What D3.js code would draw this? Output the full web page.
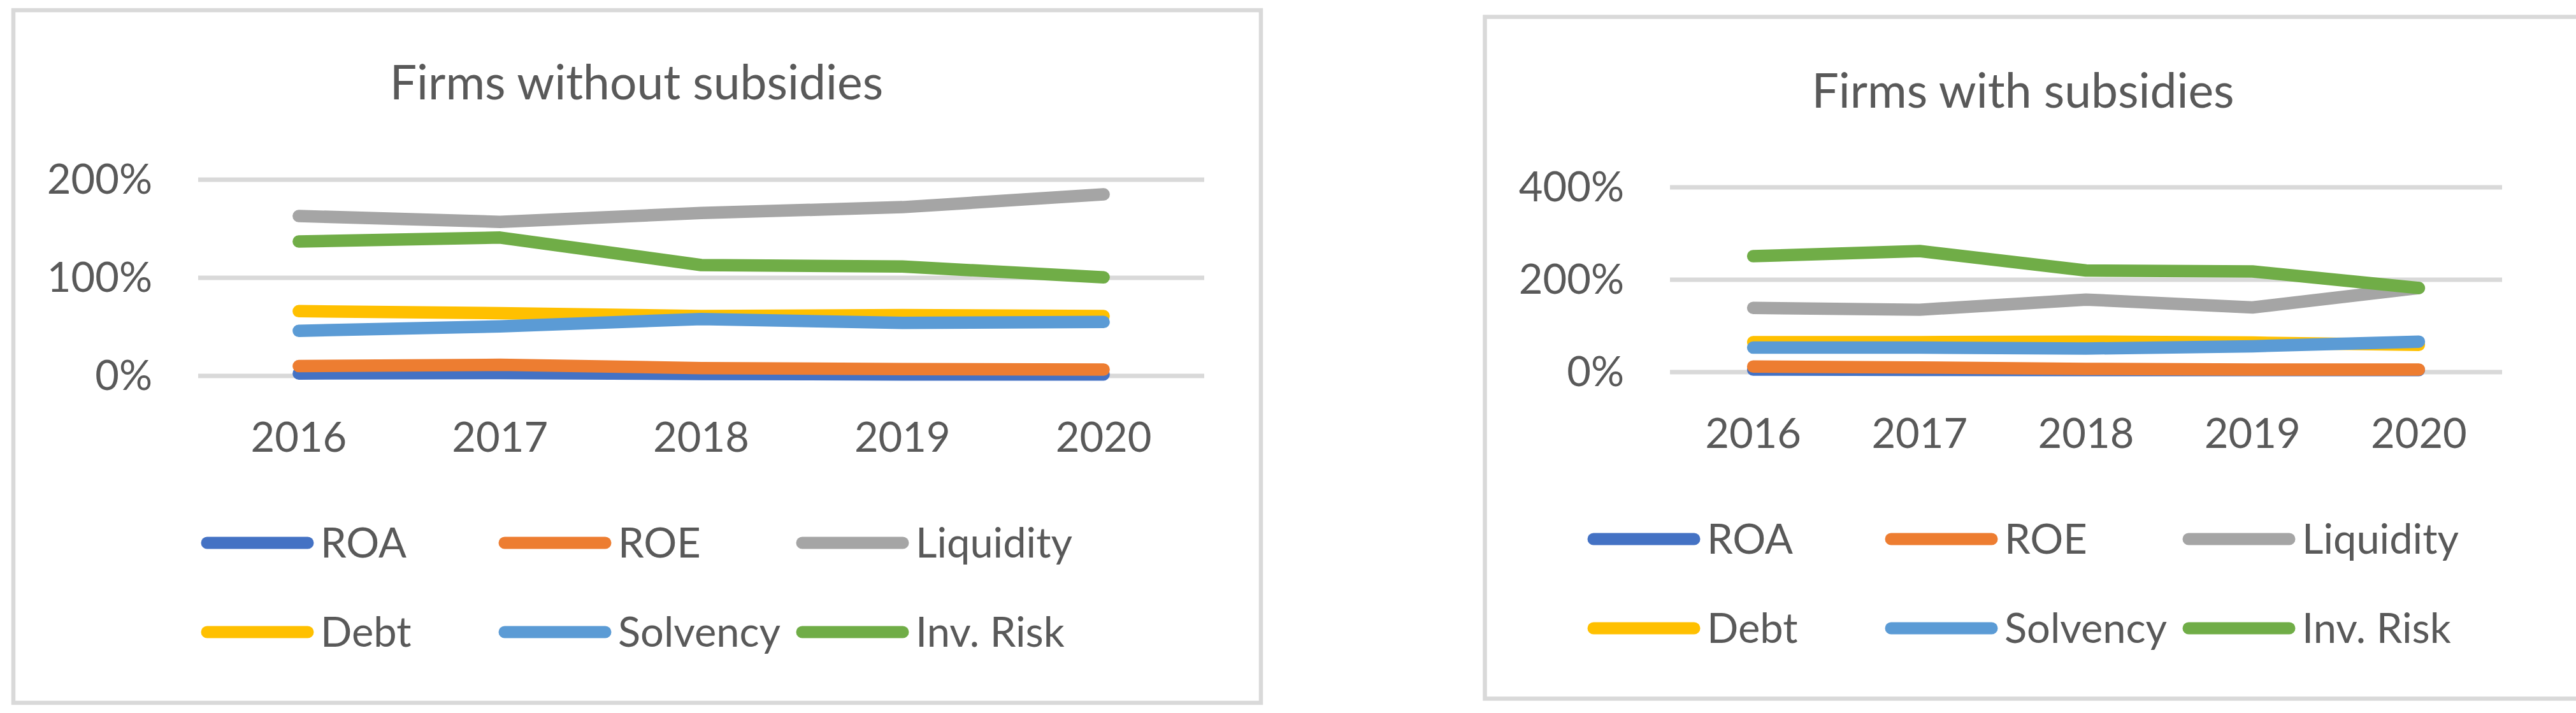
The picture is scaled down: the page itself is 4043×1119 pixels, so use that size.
<!DOCTYPE html>
<html>
<head>
<meta charset="utf-8">
<script src="https://cdn.jsdelivr.net/npm/d3@7"></script>
<style>
  html, body { margin: 0; padding: 0; background: #ffffff; }
  svg { display: block; }
  text { font-family: Lato, "Open Sans", sans-serif; fill: #595959; }
</style>
</head>
<body>
<svg id="chart" width="4043" height="1119"></svg>
<script>
// ---------- DATA ----------
const years = ["2016", "2017", "2018", "2019", "2020"];
const seriesNames = ["ROA", "ROE", "Liquidity", "Debt", "Solvency", "Inv. Risk"];

// Firms without subsidies (fractions, 1 = 100%)
const withoutROA       = [0.025, 0.030, 0.020, 0.015, 0.015];
const withoutROE       = [0.100, 0.113, 0.080, 0.070, 0.065];
const withoutLiquidity = [1.63, 1.57, 1.66, 1.72, 1.85];
const withoutDebt      = [0.66, 0.64, 0.61, 0.62, 0.61];
const withoutSolvency  = [0.46, 0.505, 0.58, 0.54, 0.55];
const withoutInvRisk   = [1.37, 1.41, 1.13, 1.115, 1.005];
const withoutTicks     = [0, 1, 2];

// Firms with subsidies
const withROA       = [0.055, 0.050, 0.045, 0.045, 0.045];
const withROE       = [0.12, 0.10, 0.07, 0.055, 0.055];
const withLiquidity = [1.39, 1.35, 1.57, 1.40, 1.82];
const withDebt      = [0.65, 0.65, 0.66, 0.64, 0.59];
const withSolvency  = [0.53, 0.53, 0.51, 0.56, 0.66];
const withInvRisk   = [2.51, 2.62, 2.20, 2.18, 1.82];
const withTicks     = [0, 2, 4];

const titles = ["Firms without subsidies", "Firms with subsidies"];

// ---------- STYLE ----------
const colors = ["#4472C4", "#ED7D31", "#A5A5A5", "#FFC000", "#5B9BD5", "#70AD47"];
const grid = "#D9D9D9";

const panels = [
  {
    title: titles[0],
    series: [withoutROA, withoutROE, withoutLiquidity, withoutDebt, withoutSolvency, withoutInvRisk],
    ticks: withoutTicks,
    box: {x: 21, y: 16, w: 1958, h: 1087},
    plot: {x0: 311, x1: 1890, y0: 590, y1: 282},
    titleX: 999, titleY: 156,
    legend: {x: 315, rows: [852, 992], colStep: 467}
  },
  {
    title: titles[1],
    series: [withROA, withROE, withLiquidity, withDebt, withSolvency, withInvRisk],
    ticks: withTicks,
    box: {x: 2330.5, y: 26.5, w: 3688, h: 1070},
    plot: {x0: 2621, x1: 3927, y0: 584, y1: 294},
    titleX: 3175, titleY: 169,
    legend: {x: 2491, rows: [846, 986], colStep: 467}
  }
];

const svg = d3.select("#chart");

panels.forEach(p => {
  const g = svg.append("g");

  // panel border
  g.append("rect")
    .attr("x", p.box.x).attr("y", p.box.y)
    .attr("width", p.box.w).attr("height", p.box.h)
    .attr("fill", "#ffffff")
    .attr("stroke", grid).attr("stroke-width", 6.5);

  // title
  g.append("text")
    .attr("x", p.titleX).attr("y", p.titleY)
    .attr("text-anchor", "middle")
    .style("font-size", "75px")
    .text(p.title);

  const x = d3.scaleBand().domain(years).range([p.plot.x0, p.plot.x1]).padding(0);
  const yMax = p.ticks[p.ticks.length - 1];
  const y = d3.scaleLinear().domain([0, yMax]).range([p.plot.y0, p.plot.y1]);

  // gridlines
  g.append("g").selectAll("line")
    .data(p.ticks)
    .join("line")
    .attr("x1", p.plot.x0).attr("x2", p.plot.x1)
    .attr("y1", d => y(d)).attr("y2", d => y(d))
    .attr("stroke", grid).attr("stroke-width", 7);

  // y axis
  const yAxis = g.append("g")
    .attr("transform", `translate(${p.plot.x0},0)`)
    .call(d3.axisLeft(y).tickValues(p.ticks).tickFormat(d3.format(".0%")).tickSize(0).tickPadding(72));
  yAxis.select(".domain").remove();
  yAxis.selectAll("text")
    .style("font-size", "65px").style("font-family", "Lato, sans-serif")
    .attr("fill", "#595959").attr("dy", "0.33em");

  // x axis
  const xAxis = g.append("g")
    .attr("transform", `translate(0,${p.plot.y0})`)
    .call(d3.axisBottom(x).tickSize(0).tickPadding(73));
  xAxis.select(".domain").remove();
  xAxis.selectAll("text")
    .style("font-size", "65px").style("font-family", "Lato, sans-serif")
    .attr("fill", "#595959");

  // lines
  const line = d3.line()
    .x((d, i) => x(years[i]) + x.bandwidth() / 2)
    .y(d => y(d));

  p.series.forEach((vals, si) => {
    g.append("path")
      .datum(vals)
      .attr("d", line)
      .attr("fill", "none")
      .attr("stroke", colors[si])
      .attr("stroke-width", 19.5)
      .attr("stroke-linecap", "round")
      .attr("stroke-linejoin", "round");
  });

  // legend
  seriesNames.forEach((name, i) => {
    const row = Math.floor(i / 3), col = i % 3;
    const lx = p.legend.x + col * p.legend.colStep;
    const ly = p.legend.rows[row];
    g.append("line")
      .attr("x1", lx + 10).attr("x2", lx + 168)
      .attr("y1", ly).attr("y2", ly)
      .attr("stroke", colors[i]).attr("stroke-width", 19)
      .attr("stroke-linecap", "round");
    g.append("text")
      .attr("x", lx + 188).attr("y", ly + 23)
      .style("font-size", "65px")
      .text(name);
  });
});
</script>
</body>
</html>
